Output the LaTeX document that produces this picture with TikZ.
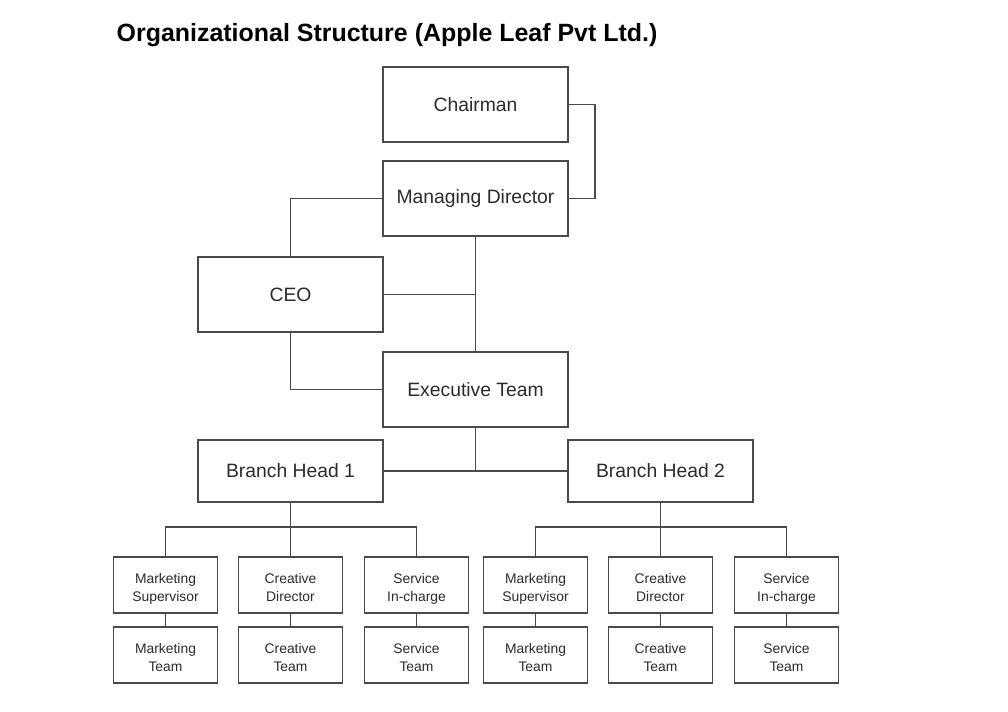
\documentclass[tikz,border=0pt]{standalone}
\usepackage{fontspec}
\setmainfont{Liberation Sans}
\usetikzlibrary{positioning}
\definecolor{edge}{HTML}{4A4A4A}
\definecolor{ink}{HTML}{2B2B2B}

\begin{document}
\begin{tikzpicture}[
  line width=0.75pt,
  box/.style={draw=edge, text=ink, align=center, inner sep=2pt, outer sep=0pt, minimum width=37mm, minimum height=15mm, font=\fontsize{11}{13}\selectfont},
  branch/.style={box, minimum height=12.4mm},
  unit/.style={box, minimum width=20.8mm, minimum height=11.2mm, font=\fontsize{7.9}{10.6}\selectfont,
    text height=22pt, text depth=2.8pt}
]
  \useasboundingbox (0,0) rectangle (20.16,-14.24);
  \node[anchor=base west, inner sep=0, font=\fontsize{14.2}{17}\selectfont\bfseries] (title) at (2.32,-0.84) {Organizational Structure (Apple Leaf Pvt Ltd.)};

  \node[box] (chair) at (9.51,-2.09) {Chairman};
  \node[box, below=3.8mm of chair] (md) {Managing Director};
  \node[box, below left=4.2mm and 0mm of md] (ceo) {CEO};
  \node[box, below=23.2mm of md] (exec) {Executive Team};
  \node[branch, below left=2.6mm and 0mm of exec] (bh1) {Branch Head 1};
  \node[branch, below right=2.6mm and 0mm of exec] (bh2) {Branch Head 2};

  \draw[edge] (chair.east) -- ++(5.4mm,0) |- (md.east);
  \draw[edge] (md.west) -| (ceo.north);
  \draw[edge] (md.south) -- (exec.north);
  \draw[edge] (ceo.east) -- (ceo.east -| exec.north);
  \draw[edge] (ceo.south) |- (exec.west);
  \draw[edge] (exec.south) -- (exec.south |- bh1.east);
  \draw[edge] (bh1.east) -- (bh2.west);

  % teams under each branch
  \foreach \b in {1,2} {
    \node[unit, below=11mm of bh\b] (cd\b) {Creative\\Director};
    \node[unit, left=4.2mm of cd\b] (ms\b) {Marketing\\Supervisor};
    \node[unit, right=4.4mm of cd\b] (si\b) {Service\\In-charge};
    \node[unit, below=2.8mm of ms\b] (mt\b) {Marketing\\Team};
    \node[unit, below=2.8mm of cd\b] (ct\b) {Creative\\Team};
    \node[unit, below=2.8mm of si\b] (st\b) {Service\\Team};
    \coordinate (fork\b) at ([yshift=-5mm]bh\b.south);
    \draw[edge] (bh\b) -- (cd\b);
    \draw[edge] (ms\b.north) |- (fork\b) -| (si\b.north);
    \draw[edge] (ms\b) -- (mt\b);
    \draw[edge] (cd\b) -- (ct\b);
    \draw[edge] (si\b) -- (st\b);
  }
\end{tikzpicture}
\end{document}
